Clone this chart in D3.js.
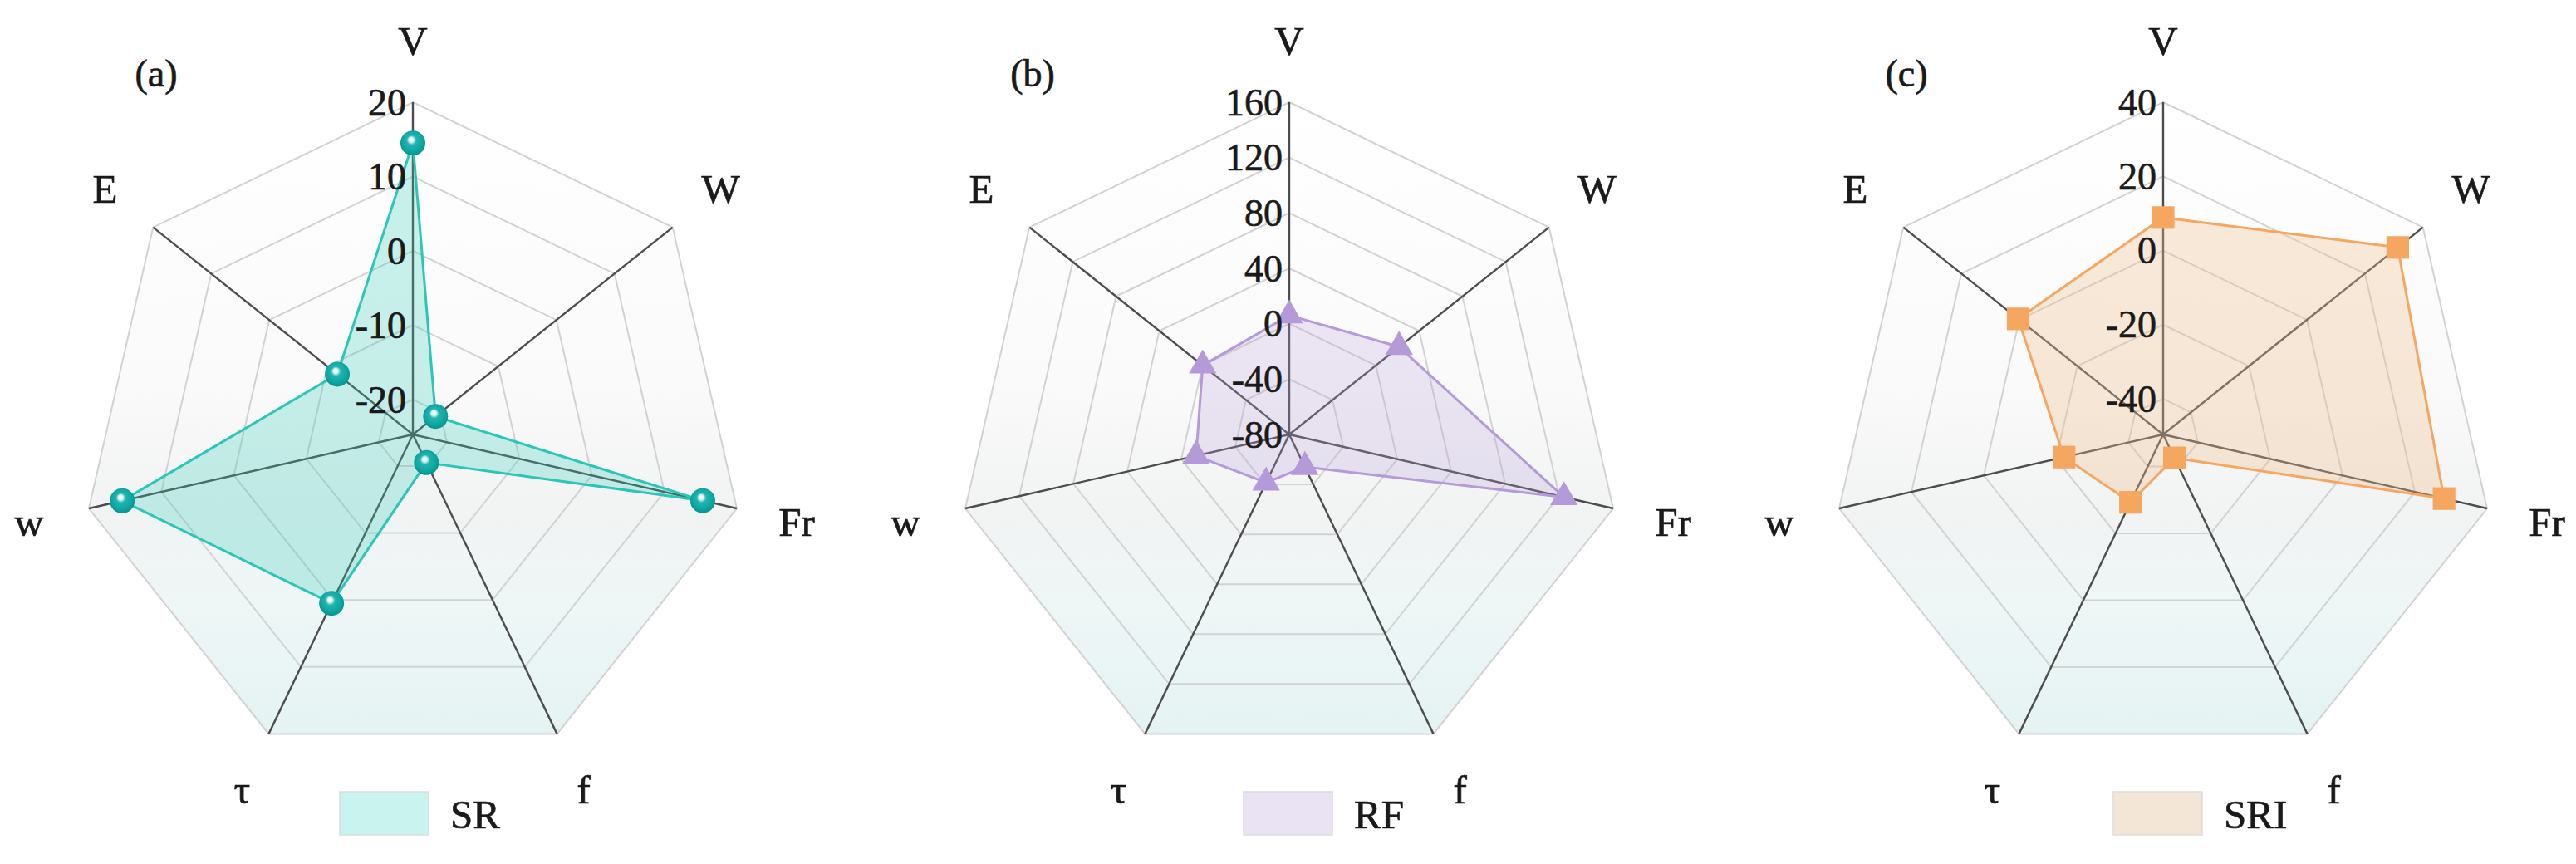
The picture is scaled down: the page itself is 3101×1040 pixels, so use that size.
<!DOCTYPE html>
<html>
<head>
<meta charset="utf-8">
<script src="https://cdn.jsdelivr.net/npm/d3@7/dist/d3.min.js"></script>
<style>
  body { margin: 0; background: #fff; }
</style>
</head>
<body>
<div id="chart"></div>
<script>
// axes go clockwise from the top
var axisNames = ["V", "W", "Fr", "f", "τ", "w", "E"];

var srValues = [14.5, -20.8, 15.3, -20.5, 0.5, 15.4, -11.7];
var rfValues = [6, 21.5, 123.5, -54, -41.5, -11, 0];
var sriValues = [8.9, 31.3, 28.1, -42.6, -29.3, -22.2, 0.4];

var srTicks = [20, 10, 0, -10, -20];
var rfTicks = [160, 120, 80, 40, 0, -40, -80];
var sriTicks = [40, 20, 0, -20, -40];

var srDomain = [-24.7, 20];
var rfDomain = [-80, 160];
var sriDomain = [-49.6, 40];

var panelLabels = ["(a)", "(b)", "(c)"];
var seriesNames = ["SR", "RF", "SRI"];

var width = 3101;
var height = 1040;
var radius = 400;
var cy = 523;
var serif = "'Liberation Serif', 'Times New Roman', serif";
var ink = "#1a1a1a";

var panels = [
    { label: panelLabels[0], name: seriesNames[0], values: srValues, ticks: srTicks, domain: srDomain,
      cx: 497, legendDx: -88, line: "#2cc6b8", fill: "rgba(46,204,186,0.26)", swatch: "#c8f3ee", marker: "sphere" },
    { label: panelLabels[1], name: seriesNames[1], values: rfValues, ticks: rfTicks, domain: rfDomain,
      cx: 1552, legendDx: -55, line: "#b49ad9", fill: "rgba(180,154,217,0.24)", swatch: "#e9e3f4", marker: "triangle" },
    { label: panelLabels[2], name: seriesNames[2], values: sriValues, ticks: sriTicks, domain: sriDomain,
      cx: 2604, legendDx: -60, line: "#f5a760", fill: "rgba(240,190,140,0.32)", swatch: "#f4e6d6", marker: "square" }
];

var svg = d3.select("#chart")
    .append("svg")
    .attr("width", width)
    .attr("height", height)
    .attr("font-family", serif);

svg.append("rect")
    .attr("width", width)
    .attr("height", height)
    .attr("fill", "#fff");

var defs = svg.append("defs");

var bg = defs.append("linearGradient")
    .attr("id", "bgGrad")
    .attr("x1", 0).attr("y1", 0).attr("x2", 0).attr("y2", 1);
bg.append("stop").attr("offset", "0%").attr("stop-color", "#ffffff");
bg.append("stop").attr("offset", "45%").attr("stop-color", "#fafafa");
bg.append("stop").attr("offset", "64%").attr("stop-color", "#f2f3f3");
bg.append("stop").attr("offset", "80%").attr("stop-color", "#eef6f6");
bg.append("stop").attr("offset", "100%").attr("stop-color", "#e5f3f3");

var ball = defs.append("radialGradient")
    .attr("id", "ballGrad")
    .attr("cx", "50%").attr("cy", "45%").attr("r", "55%")
    .attr("fx", "42%").attr("fy", "35%");
ball.append("stop").attr("offset", "0%").attr("stop-color", "#ffffff");
ball.append("stop").attr("offset", "18%").attr("stop-color", "#d8f4f2");
ball.append("stop").attr("offset", "35%").attr("stop-color", "#22b5b0");
ball.append("stop").attr("offset", "80%").attr("stop-color", "#0ba39e");
ball.append("stop").attr("offset", "100%").attr("stop-color", "#08918c");

var n = axisNames.length;
var angle = d3.scaleLinear().domain([0, n]).range([0, 2 * Math.PI]);

function point(i, r, cx) {
    var a = angle(i);
    return [cx + r * Math.sin(a), cy - r * Math.cos(a)];
}

function ring(r, cx) {
    return d3.range(n).map(function(i) { return point(i, r, cx); });
}

// text in the figure is a little heavier than plain Liberation Serif
function inked(sel) {
    sel.attr("fill", ink)
        .attr("stroke", ink)
        .attr("stroke-width", 0.7);
}

var line = d3.line().curve(d3.curveLinearClosed);

panels.forEach(function(p) {
    var rScale = d3.scaleLinear().domain(p.domain).range([0, radius]);
    var g = svg.append("g");

    // background heptagon
    g.append("path")
        .attr("d", line(ring(radius, p.cx)))
        .attr("fill", "url(#bgGrad)")
        .attr("stroke", "none");

    // grid rings
    g.selectAll(".grid")
        .data(p.ticks.filter(function(t) { return rScale(t) > 1; }))
        .enter()
        .append("path")
        .attr("d", function(t) { return line(ring(rScale(t), p.cx)); })
        .attr("fill", "none")
        .attr("stroke", "#d2d2d2")
        .attr("stroke-width", 2);

    // spokes
    g.selectAll(".spoke")
        .data(d3.range(n))
        .enter()
        .append("line")
        .attr("x1", p.cx)
        .attr("y1", cy)
        .attr("x2", function(i) { return point(i, radius, p.cx)[0]; })
        .attr("y2", function(i) { return point(i, radius, p.cx)[1]; })
        .attr("stroke", "#4d4d4d")
        .attr("stroke-width", 2.4);

    // data area
    var pts = p.values.map(function(v, i) { return point(i, rScale(v), p.cx); });
    g.append("path")
        .attr("d", line(pts))
        .attr("fill", p.fill)
        .attr("stroke", p.line)
        .attr("stroke-width", 3)
        .attr("stroke-linejoin", "round");

    // markers
    if (p.marker === "sphere") {
        g.selectAll(".mk")
            .data(pts)
            .enter()
            .append("circle")
            .attr("cx", function(d) { return d[0]; })
            .attr("cy", function(d) { return d[1]; })
            .attr("r", 15)
            .attr("fill", "url(#ballGrad)");
    } else {
        var sym = d3.symbol()
            .type(p.marker === "triangle" ? d3.symbolTriangle : d3.symbolSquare)
            .size(p.marker === "triangle" ? 480 : 740);
        g.selectAll(".mk")
            .data(pts)
            .enter()
            .append("path")
            .attr("d", sym)
            .attr("transform", function(d) { return "translate(" + d[0] + "," + d[1] + ")"; })
            .attr("fill", p.line);
    }

    // tick labels on the V spoke
    g.selectAll(".tick")
        .data(p.ticks)
        .enter()
        .append("text")
        .attr("x", p.cx - 8)
        .attr("y", function(t) { return cy - rScale(t); })
        .attr("dy", "0.34em")
        .attr("text-anchor", "end")
        .attr("font-size", 46)
        .call(inked)
        .text(function(t) { return t; });

    // axis names
    g.selectAll(".axisName")
        .data(axisNames)
        .enter()
        .append("text")
        .attr("x", function(d, i) { return point(i, 474, p.cx)[0]; })
        .attr("y", function(d, i) { return point(i, 474, p.cx)[1]; })
        .attr("dy", "0.34em")
        .attr("text-anchor", "middle")
        .attr("font-size", 49)
        .call(inked)
        .text(function(d) { return d; });

    // panel tag
    g.append("text")
        .attr("x", p.cx - 309)
        .attr("y", 88)
        .attr("dy", "0.34em")
        .attr("text-anchor", "middle")
        .attr("font-size", 46)
        .call(inked)
        .text(p.label);

    // legend
    var lx = p.cx + p.legendDx;
    g.append("rect")
        .attr("x", lx)
        .attr("y", 953)
        .attr("width", 107)
        .attr("height", 52)
        .attr("fill", p.swatch)
        .attr("stroke", "#dcdcdc")
        .attr("stroke-width", 1.5);
    g.append("text")
        .attr("x", lx + 107 + 26)
        .attr("y", 997)
        .attr("font-size", 49)
        .call(inked)
        .text(p.name);
});
</script>
</body>
</html>
